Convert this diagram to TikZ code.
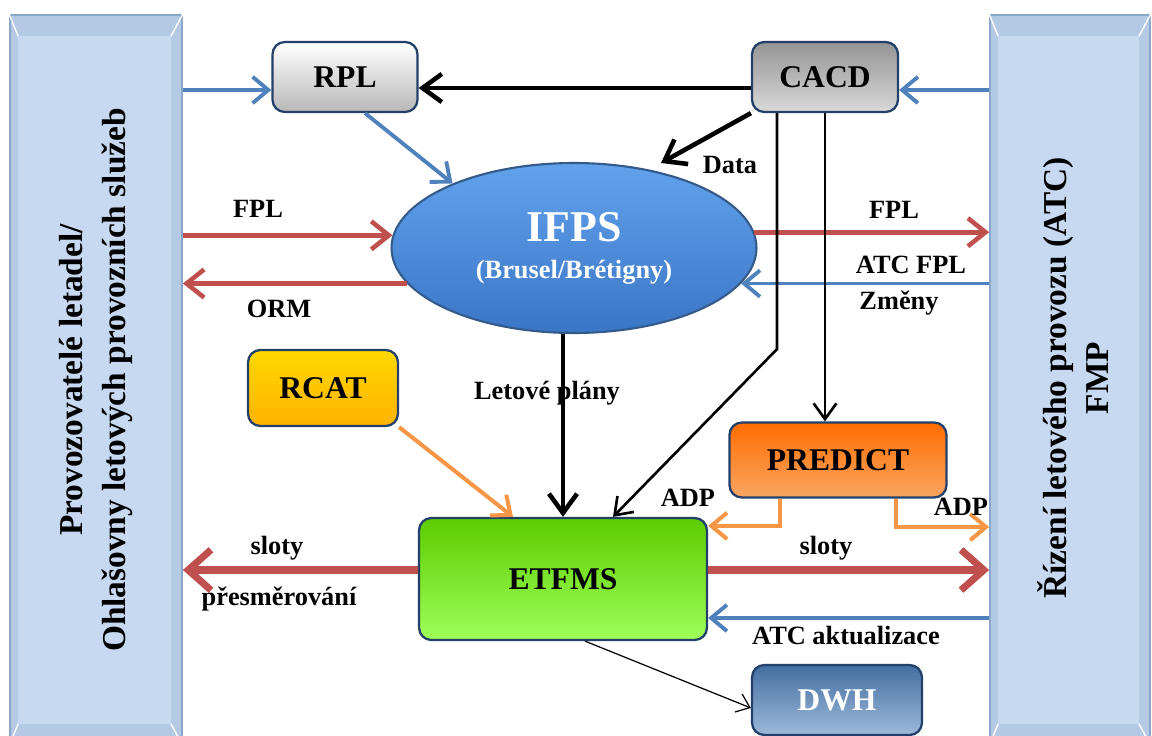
\documentclass[tikz,border=0pt]{standalone}
\usepackage{fontspec}
\setmainfont{Liberation Serif}
\usetikzlibrary{arrows.meta,positioning,shapes.geometric,calc}
\definecolor{barfill}{HTML}{B3C9E4}
\definecolor{barface}{HTML}{C6D9F1}
\definecolor{barline}{HTML}{8AA6C8}
\definecolor{boxline}{HTML}{22406A}
\definecolor{flowblue}{HTML}{4F81BD}
\definecolor{flowred}{HTML}{C0504D}
\definecolor{floworange}{HTML}{F79646}
\definecolor{ifpstop}{HTML}{62A2EC}
\definecolor{ifpsbot}{HTML}{3A76C6}
\tikzset{
      sidebar/.style={
        draw=barline,
        line width=1pt,
        fill=barfill,
        minimum height=14.6cm,
        inner sep=0pt
      },
      bartext/.style={
        rotate=90,
        align=center,
        font=\bfseries\fontsize{19}{24}\selectfont
      },
      sysbox/.style={
        rounded corners=7pt,
        draw=boxline,
        line width=1.3pt,
        font=\bfseries\fontsize{18}{20}\selectfont,
        inner sep=0pt
      },
      flowlbl/.style={font=\bfseries\fontsize{15}{17}\selectfont, inner sep=1pt},
      blueflow/.style={draw=flowblue, line width=2.2pt, -{Straight Barb[length=9pt,width=15pt]}},
      redflow/.style={draw=flowred, line width=2.6pt, -{Straight Barb[length=10pt,width=16pt]}},
      redbig/.style={draw=flowred, line width=4pt, -{Straight Barb[length=13pt,width=23pt]}},
      orangeflow/.style={draw=floworange, line width=2.3pt, -{Straight Barb[length=9pt,width=15pt]}},
      blackflow/.style={draw=black, line width=2.6pt, -{Straight Barb[length=11pt,width=16pt]}},
      thinflow/.style={draw=black, line width=1.5pt, -{Straight Barb[length=9pt,width=13pt]}}
    }
\begin{document}
\begin{tikzpicture}[x=0.02cm,y=-0.02cm]
    \useasboundingbox (0,0) rectangle (1152,736);
    \clip (0,0) rectangle (1152,736);
    % side panels
    \node[sidebar, minimum width=3.44cm] (prov) at (96,380) {};
    \node[sidebar, minimum width=3.2cm] (atc) at (1070,380) {};
    \foreach \b in {prov,atc} {
      \fill[barface] ($(\b.north west)+(9,22)$) rectangle ($(\b.south east)+(-12,-22)$);
      \draw[white, line width=0.8pt] (\b.north west) -- ($(\b.north west)+(9,22)$)
        (\b.north east) -- ($(\b.north east)+(-12,22)$)
        (\b.south west) -- ($(\b.south west)+(9,-22)$)
        (\b.south east) -- ($(\b.south east)+(-12,-22)$);
    }
    \node[bartext] (provtxt) at (prov.center) {Provozovatelé letadel/\\Ohlašovny letových provozních služeb};
    \node[bartext] (atctxt) at (1073,378) {Řízení letového provozu (ATC)\\FMP};

    % systems
    \node[sysbox, top color=white, bottom color=black!28, minimum width=2.9cm, minimum height=1.4cm] (rpl) at (345,77) {RPL};
    \node[sysbox, top color=black!42, bottom color=black!15, minimum width=2.92cm, minimum height=1.4cm] (cacd) at (825,77) {CACD};
    \node[ellipse, draw=boxline!60!flowblue, line width=1.2pt, top color=ifpstop, bottom color=ifpsbot,
          minimum width=7.3cm, minimum height=3.4cm, align=center, text=white, font=\bfseries] (ifps) at (574,248)
          {{\fontsize{25}{28}\selectfont IFPS}\\[9pt]{\fontsize{15}{17}\selectfont (Brusel/Brétigny)}};
    \node[sysbox, top color=yellow!70!orange, bottom color=orange!60!yellow, minimum width=3cm, minimum height=1.52cm] (rcat) at (323,388) {RCAT};
    \node[sysbox, top color=green!40!lime!80!black, bottom color=lime!55!green!65!white, minimum width=5.76cm, minimum height=2.44cm] (etfms) at (563,579) {ETFMS};
    \node[sysbox, top color=orange!85!red, bottom color=floworange!85!white, minimum width=4.34cm, minimum height=1.5cm] (predict) at (838,460) {PREDICT};
    \node[sysbox, top color=flowblue!85!black, bottom color=flowblue!55!white, text=white, minimum width=3.4cm, minimum height=1.4cm] (dwh) at (837,700) {DWH};
    \coordinate (dataend) at (661,163);

    % flows
    \draw[blueflow] (prov.east |- 0,90) -- (rpl.west |- 0,90);
    \draw[blueflow] ($(rpl.south)+(20,0)$) -- (ifps.152);
    \draw[blackflow] (cacd.west |- 0,88) -- (rpl.east |- 0,88);
    \draw[blueflow] (atc.west |- 0,90) -- (cacd.east |- 0,90);
    \draw[blackflow] (cacd.south west) -- (dataend);
    \draw[redflow] (prov.east |- ifps.176) -- (ifps.176);
    \draw[redflow] (ifps.192) -- (prov.east |- ifps.192);
    \draw[redflow] (ifps.5) -- (atc.west |- ifps.5);
    \draw[blueflow] (atc.west |- ifps.348) -- (ifps.348);
    \draw[blackflow] (etfms.north |- ifps.south) -- (etfms.north);
    \draw[thinflow] ($(cacd.south)+(-48,0)$) -- ++(0,236) -- ($(etfms.north)+(50,0)$);
    \draw[thinflow] (cacd.south) -- (cacd.south |- predict.north);
    \draw[orangeflow] (rcat.south east) -- ($(etfms.north)+(-50,0)$);
    \draw[orangeflow] ($(predict.south)+(-58,0)$) |- ($(etfms.north east)+(0,9)$);
    \draw[orangeflow] ($(predict.south)+(58,0)$) |- (atc.west |- 0,527);
    \draw[redbig] (etfms.west |- 0,570) -- (prov.east |- 0,570);
    \draw[redbig] (etfms.east |- 0,570) -- (atc.west |- 0,570);
    \draw[blueflow] (atc.west |- 0,618) -- (etfms.east |- 0,618);
    \draw[black, line width=0.7pt, -{Straight Barb[length=7pt,width=11pt]}] ($(etfms.south)+(22,0)$) -- ($(dwh.west)+(0,8)$);

    % labels
    \node[flowlbl] (lfpl) at (258,209) {FPL};
    \node[flowlbl] (lorm) at (279,309) {ORM};
    \node[flowlbl] (ldata) at (730,165) {Data};
    \node[flowlbl] (rfpl) at (894,210) {FPL};
    \node[flowlbl] (ratcfpl) at (911,265) {ATC FPL};
    \node[flowlbl] (rzmeny) at (899,303) {Změny};
    \node[flowlbl] (lplany) at (547,393) {Letové plány};
    \node[flowlbl] (ladp) at (688,498) {ADP};
    \node[flowlbl] (radp) at (961,507) {ADP};
    \node[flowlbl] (lsloty) at (277,548) {sloty};
    \node[flowlbl] (lpresm) at (279,599) {přesměrování};
    \node[flowlbl] (rsloty) at (826,548) {sloty};
    \node[flowlbl] (ratcakt) at (846,636) {ATC aktualizace};
\end{tikzpicture}
\end{document}
